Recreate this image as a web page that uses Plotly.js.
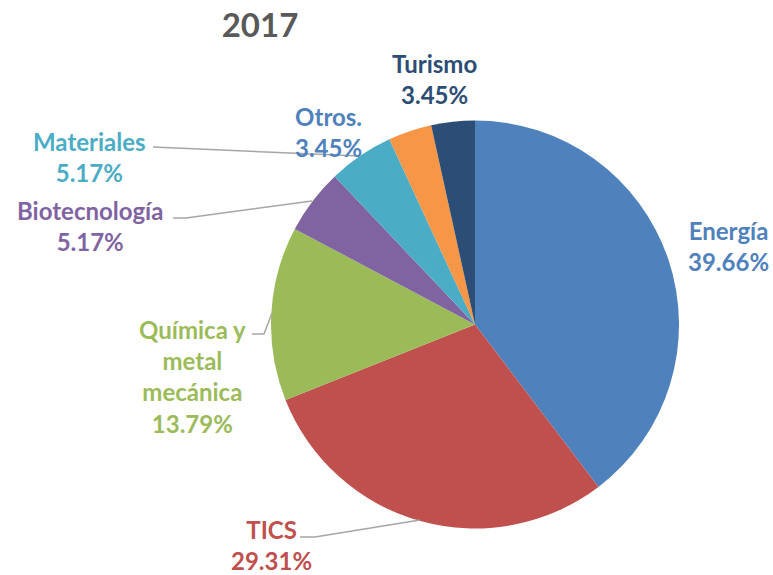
<!DOCTYPE html>
<html>
<head>
<meta charset="utf-8">
<script src="https://cdn.plot.ly/plotly-3.0.1.min.js"></script>
<style>html,body{margin:0;padding:0;background:#fff;}#chart{width:773px;height:575px;}</style>
</head>
<body>
<div id="chart"></div>
<script>
// Data
const categories = ["Energía", "TICS", "Química y<br>metal<br>mecánica", "Biotecnología", "Materiales", "Otros.", "Turismo"];
const values = [23, 17, 8, 3, 3, 2, 2];
const percentLabels = ["39.66%", "29.31%", "13.79%", "5.17%", "5.17%", "3.45%", "3.45%"];
const sliceColors = ["#4F81BD", "#C0504D", "#9BBB59", "#8064A2", "#4BACC6", "#F79646", "#2C4D75"];
const labelColors = ["#4F81BD", "#C0504D", "#9BBB59", "#8064A2", "#4BACC6", "#4F81BD", "#2C4D75"];

const W = 773, H = 575;
const px = x => x / W;
const py = y => 1 - y / H;

// label placement (pixel centres) and leader lines (pixel paths)
const labelPos = [[728, 246], [271, 545], [192, 376], [90, 226], [89, 157], [328, 132], [434, 79]];
const leaders = [
  null,
  [[300, 537], [315, 537], [420, 520]],
  [[252, 334], [264, 334], [272, 313]],
  [[173, 218], [186, 218], [312, 201]],
  [[153, 147], [360, 156]],
  null,
  null
];

const cx = 475, cy = 324.5, R = 204;

const trace = {
  type: 'pie',
  labels: categories,
  values: values,
  sort: false,
  direction: 'clockwise',
  rotation: 0,
  textinfo: 'none',
  hoverinfo: 'label+percent',
  marker: {colors: sliceColors, line: {color: '#ffffff', width: 0}},
  domain: {x: [px(cx - R), px(cx + R)], y: [py(cy + R), py(cy - R)]},
  showlegend: false
};

const annotations = categories.map((c, i) => ({
  xref: 'paper', yref: 'paper',
  x: px(labelPos[i][0]), y: py(labelPos[i][1]),
  xanchor: 'center', yanchor: 'middle',
  text: c + '<br>' + percentLabels[i],
  showarrow: false,
  align: 'center',
  font: {family: 'Lato, sans-serif', size: 24, weight: 700, color: labelColors[i]}
}));

const shapes = [];
leaders.forEach(p => {
  if (!p) return;
  const path = p.map((pt, k) => (k === 0 ? 'M' : 'L') + px(pt[0]) + ',' + py(pt[1])).join(' ');
  shapes.push({type: 'path', xref: 'paper', yref: 'paper', path: path,
    line: {color: '#A6A6A6', width: 1.5}});
});

const layout = {
  width: W, height: H,
  margin: {l: 0, r: 0, t: 0, b: 0},
  paper_bgcolor: '#ffffff',
  title: {text: '<b>2017</b>', x: px(260), xanchor: 'center', y: py(25), yanchor: 'middle',
    font: {family: 'Lato, sans-serif', size: 33, color: '#595959'}},
  annotations: annotations,
  shapes: shapes
};

Plotly.newPlot('chart', [trace], layout, {displayModeBar: false});
</script>
</body>
</html>
